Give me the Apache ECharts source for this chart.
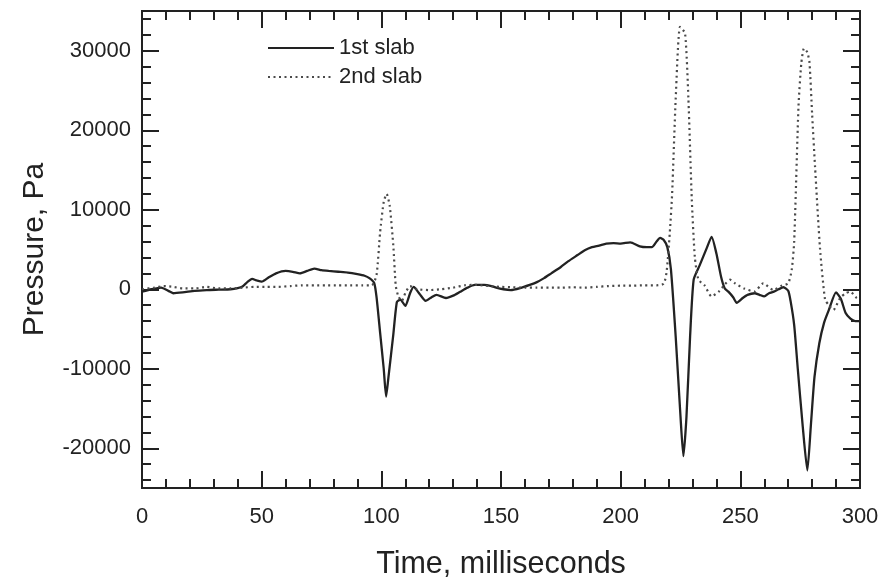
<!DOCTYPE html>
<html>
<head>
<meta charset="utf-8">
<script src="https://cdn.jsdelivr.net/npm/echarts@6/dist/echarts.min.js"></script>
<style>
html,body{margin:0;padding:0;background:#fff;}
#chart{width:884px;height:585px;}
</style>
</head>
<body>
<div id="chart"></div>
<script>
// ---- data ----
var seriesNames = ['1st slab', '2nd slab'];

var time1 = [0, 4, 8, 11, 13, 17, 22, 27, 32, 37, 40, 42, 44, 46, 48, 50, 53, 56, 60, 63, 66, 69, 72, 75, 78, 82, 86, 90, 93, 95, 97, 98, 99.5, 101, 102, 103, 105, 106.5, 108, 110, 112, 113.5, 116, 118.5, 121, 123, 127, 130, 133, 136, 139, 143, 146, 148, 151, 154, 158, 162, 165, 168, 171, 175, 178, 182, 185, 188, 191, 194, 197, 200, 204, 208, 211, 213, 215, 216.5, 218, 219.5, 221, 223, 225, 226.2, 227.5, 229, 230.5, 233, 236, 238, 240, 242, 243.5, 245, 247, 248.5, 251, 253, 256, 258, 260, 262, 264, 266, 268, 270, 271, 272.5, 274, 276, 278, 279.5, 281, 283, 285, 287, 290, 292, 294, 296, 298, 300];
var pressure1 = [-300, 0, 200, -200, -500, -400, -200, -100, -50, 0, 150, 350, 900, 1300, 1100, 950, 1500, 2000, 2300, 2200, 2000, 2300, 2600, 2400, 2300, 2200, 2100, 1900, 1700, 1400, 800, -1000, -5500, -10000, -13500, -11000, -5700, -1600, -1300, -2100, -500, 300, -600, -1450, -1000, -700, -1100, -800, -300, 200, 550, 550, 400, 200, 0, -100, 150, 550, 900, 1400, 2000, 2800, 3500, 4300, 4900, 5300, 5500, 5750, 5800, 5750, 5900, 5400, 5300, 5300, 6000, 6450, 6200, 5300, 2500, -6000, -16000, -21000, -16000, -6000, 1200, 3000, 5200, 6600, 4500, 1500, 100, -300, -1000, -1700, -1100, -700, -500, -700, -900, -500, -300, 0, 250, -200, -1500, -4500, -10000, -17000, -22800, -17000, -11000, -6800, -4200, -2600, -400, -1200, -3000, -3700, -4000, -4000];

var time2 = [0, 5, 9, 13, 17, 22, 27, 32, 37, 42, 47, 52, 57, 62, 67, 72, 77, 82, 87, 92, 96, 98, 99.5, 101, 102.2, 103.5, 105, 106, 107, 108.5, 110, 112, 115, 120, 125, 130, 135, 140, 145, 150, 155, 160, 165, 170, 175, 180, 185, 190, 195, 200, 205, 210, 215, 218, 219.2, 220.5, 221.5, 223, 224.8, 226.9, 228.3, 229.7, 231, 232.5, 235, 238, 241, 243.5, 245.7, 248, 251.6, 255.8, 259.6, 263.8, 267, 270, 271.5, 272.5, 274.3, 275.5, 276.6, 278, 278.9, 280, 281.2, 283.3, 285.4, 287, 288.9, 291.7, 294, 295.9, 298.6, 300];
var pressure2 = [0, 200, 400, 300, 100, 100, 300, 100, 100, 200, 300, 300, 300, 400, 500, 500, 500, 500, 500, 500, 500, 1800, 7200, 11000, 12000, 10500, 5500, 500, -800, -1500, -500, 400, 0, -100, 0, 200, 500, 550, 400, 300, 250, 200, 200, 200, 200, 250, 200, 300, 400, 450, 450, 500, 500, 700, 2200, 7000, 12000, 24000, 33000, 32200, 24000, 11400, 4000, 1200, 500, -900, -300, 600, 1200, 700, 100, -300, 750, -100, 400, 750, 2500, 6000, 23000, 28500, 30300, 29800, 28500, 22000, 15500, 5100, -1300, -2000, -2600, -1100, -500, -300, -1100, -1300];

var xTickLabels = [0, 50, 100, 150, 200, 250, 300];
var yTickLabels = [-20000, -10000, 0, 10000, 20000, 30000];
// ---- end data ----

function pairs(xs, ys) { return xs.map(function (x, i) { return [x, ys[i]]; }); }
var yMinor = [];
for (var v = -24000; v <= 34000; v += 2000) yMinor.push(v);

var FONT = "'Liberation Sans', Arial, Helvetica, sans-serif";
var INK = '#222';
var axisLine = { show: true, onZero: false, lineStyle: { color: INK, width: 2 } };

function xAx(pos, labels) {
  return {
    type: 'value', position: pos, min: 0, max: 300, interval: 50,
    axisLine: axisLine,
    axisTick: { show: true, inside: true, length: 17, lineStyle: { color: INK, width: 2 } },
    minorTick: { show: true, splitNumber: 5, length: 9, lineStyle: { color: INK, width: 2 } },
    splitLine: { show: false }, minorSplitLine: { show: false },
    axisLabel: labels ? { show: true, color: INK, fontSize: 22, fontFamily: FONT, margin: 18,
      customValues: xTickLabels, formatter: function (v) { return String(v); } } : { show: false },
    name: labels ? 'Time, milliseconds' : '',
    nameLocation: 'middle', nameGap: 61,
    nameTextStyle: { color: INK, fontSize: 30.5, fontFamily: FONT }
  };
}
function yAx(pos, major, labels) {
  var o = {
    type: 'value', position: pos, min: -25000, max: 35000,
    axisLine: axisLine,
    axisTick: { show: true, inside: true, length: major ? 17 : 9,
      customValues: major ? yTickLabels : yMinor, lineStyle: { color: INK, width: 2 } },
    splitLine: { show: false },
    axisLabel: labels ? { show: true, color: INK, fontSize: 22, fontFamily: FONT, margin: 11,
      customValues: yTickLabels, formatter: function (v) { return String(v); } } : { show: false }
  };
  if (labels) {
    o.name = 'Pressure, Pa';
    o.nameLocation = 'middle';
    o.nameGap = 92;
    o.nameTextStyle = { color: INK, fontSize: 30, fontFamily: FONT };
  }
  return o;
}

var chart = echarts.init(document.getElementById('chart'), null, { renderer: 'canvas' });
chart.setOption({
  backgroundColor: '#fff',
  animation: false,
  grid: { left: 142, right: 24, top: 11, bottom: 94, containLabel: false },
  legend: {
    orient: 'vertical', left: 262, top: 32, itemWidth: 66, itemHeight: 14, itemGap: 7,
    itemStyle: { opacity: 0 },
    textStyle: { color: INK, fontSize: 22, fontFamily: FONT },
    data: seriesNames
  },
  xAxis: [xAx('bottom', true), xAx('top', false)],
  yAxis: [yAx('left', true, true), yAx('left', false, false), yAx('right', true, false), yAx('right', false, false)],
  series: [
    { name: seriesNames[0], type: 'line', xAxisIndex: 0, yAxisIndex: 0, data: pairs(time1, pressure1),
      showSymbol: false, symbol: 'none', smooth: 0.2,
      lineStyle: { color: '#222', width: 2.3 }, itemStyle: { color: '#222' } },
    { name: seriesNames[1], type: 'line', xAxisIndex: 0, yAxisIndex: 0, data: pairs(time2, pressure2),
      showSymbol: false, symbol: 'none', smooth: 0.2,
      lineStyle: { color: '#4a4a4a', width: 2.2, type: [2, 3.5] }, itemStyle: { color: '#4a4a4a' } }
  ]
});
</script>
</body>
</html>
